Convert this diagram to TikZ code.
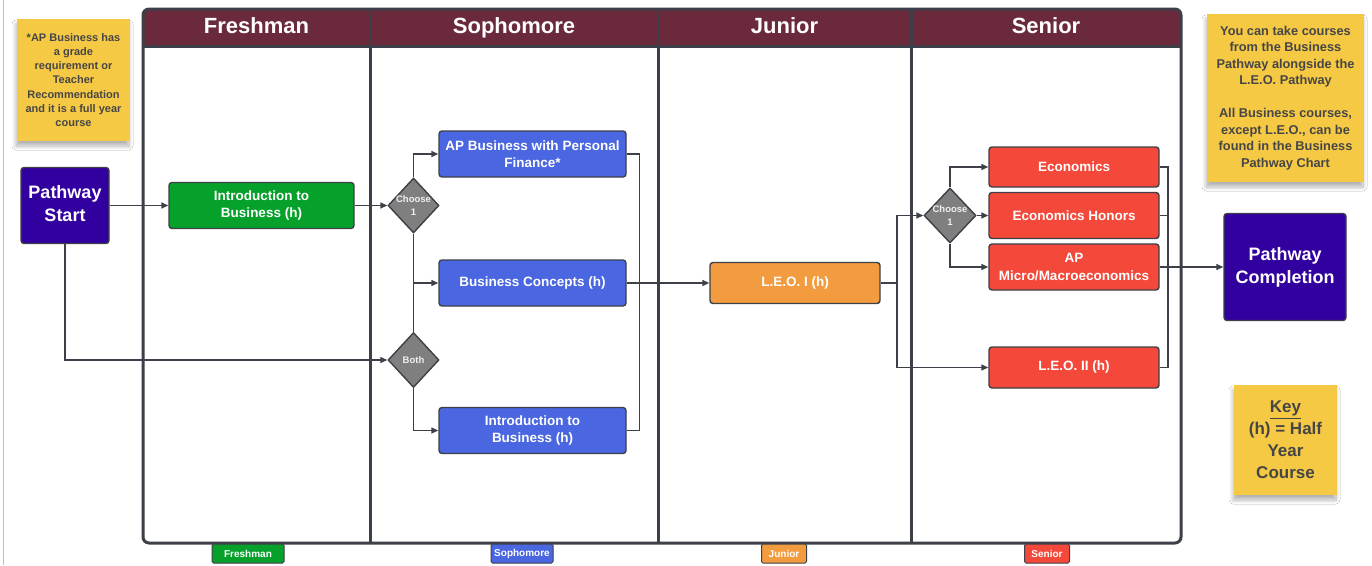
\documentclass[tikz,border=0pt]{standalone}
\usepackage{fontspec}
\setmainfont{Liberation Sans}
\usetikzlibrary{shapes.geometric,arrows.meta,shadows.blur}
\definecolor{edge}{HTML}{3D4048}
\definecolor{hdr}{HTML}{6B2A3B}
\definecolor{purp}{HTML}{3300A0}
\definecolor{grn}{HTML}{06A12B}
\definecolor{blu}{HTML}{4A66E0}
\definecolor{org}{HTML}{F39C3F}
\definecolor{redc}{HTML}{F4493A}
\definecolor{yel}{HTML}{F6C944}
\definecolor{dgray}{HTML}{7F7F7F}
\definecolor{notetext}{HTML}{464646}
\begin{document}
\begin{tikzpicture}[x=1pt,y=-1pt,
  box/.style={rectangle, rounded corners=3pt, draw=edge, line width=1.4pt, text=white, align=center, inner sep=0pt, font=\bfseries\fontsize{13.5}{17.5}\selectfont},
  bigbox/.style={box, fill=purp, font=\bfseries\fontsize{18}{23}\selectfont},
  dia/.style={diamond, draw=edge, fill=dgray, line width=1.4pt, minimum width=51pt, minimum height=55pt, inner sep=0pt},
  diatext/.style={text=white!88!gray, font=\bfseries\fontsize{9.5}{12.5}\selectfont, align=center, inner sep=0pt},
  conn/.style={draw=edge, line width=1.4pt},
  arr/.style={conn, -{Triangle[length=7pt,width=6pt]}},
  note/.style={rectangle, fill=yel, text=notetext, align=center, inner sep=0pt, blur shadow={shadow xshift=-1pt, shadow yshift=-5pt, shadow blur steps=8, shadow blur radius=4pt, shadow opacity=30}},
  lanehead/.style={text=white, font=\bfseries\fontsize{22}{26}\selectfont, inner sep=0pt, anchor=base},
  tag/.style={rectangle, rounded corners=1.5pt, draw=edge, line width=1pt, text=white, inner sep=0pt, minimum height=19pt, font=\bfseries\fontsize{10}{11}\selectfont},
  frameline/.style={draw=edge, line width=3pt}
]
\useasboundingbox (0,0) rectangle (1372,565);
\fill[white] (0,0) rectangle (1372,565);
\draw[gray!50, line width=1pt] (3,0) -- (3,565);

% swimlane frame
\fill[hdr] (143,46) {[rounded corners=6pt] -- (143,9) -- (1181,9)} -- (1181,46) -- cycle;
\draw[frameline, rounded corners=6pt] (143,9) rectangle (1181,543);
\draw[frameline] (143,46) -- (1181,46);
\draw[frameline] (370,9) -- (370,543);
\draw[frameline] (658,9) -- (658,543);
\draw[frameline] (911,9) -- (911,543);
\node[lanehead] (hF) at (256.5,33) {Freshman};
\node[lanehead] (hS) at (514,33) {Sophomore};
\node[lanehead] (hJ) at (784.5,33) {Junior};
\node[lanehead] (hN) at (1046,33) {Senior};

% bottom tags
\node[tag, fill=grn, minimum width=72pt] (tF) at (248,553.5) {Freshman};
\node[tag, fill=blu, minimum width=62pt] (tS) at (522,553.5) {Sophomore};
\node[tag, fill=org, minimum width=45pt] (tJ) at (784,553.5) {Junior};
\node[tag, fill=redc, minimum width=45pt] (tN) at (1047,553.5) {Senior};

% notes
\node[note, minimum width=113pt, minimum height=122pt, font=\bfseries\fontsize{11}{14.3}\selectfont] (n1) at (73.5,80)
  {*AP Business has\\a grade\\requirement or\\Teacher\\Recommendation\\and it is a full year\\course};
\node[note, minimum width=157pt, minimum height=168pt, font=\bfseries\fontsize{12.8}{16.5}\selectfont] (n2) at (1285.5,98)
  {You can take courses\\from the Business\\Pathway alongside the\\L.E.O. Pathway\\[16.5pt]All Business courses,\\except L.E.O., can be\\found in the Business\\Pathway Chart};
\node[note, minimum width=103pt, minimum height=110pt, font=\bfseries\fontsize{17}{22}\selectfont] (key) at (1285.5,440)
  {\underline{Key}\\(h) = Half\\Year\\Course};

% nodes
\node[bigbox, minimum width=88pt, minimum height=76pt] (start) at (65,205.5) {Pathway\\Start\vphantom{g}};
\node[box, fill=grn, minimum width=185pt, minimum height=46pt] (intro1) at (261.5,205.5) {Introduction to\\Business (h)};
\node[dia] (ch1) at (413.5,205.5) {};
\node[diatext] (ch1t) at (ch1) {Choose\\1};
\node[dia] (both) at (413.5,360) {};
\node[diatext] (botht) at (both) {Both};
\node[box, fill=blu, minimum width=187pt, minimum height=46pt] (ap) at (532.5,154) {AP Business with Personal\\Finance*};
\node[box, fill=blu, minimum width=187pt, minimum height=46pt] (bc) at (532.5,283) {Business Concepts (h)};
\node[box, fill=blu, minimum width=187pt, minimum height=46pt] (intro2) at (532.5,430.5) {Introduction to\\Business (h)};
\node[box, fill=org, minimum width=170pt, minimum height=41pt] (leo1) at (795,283) {L.E.O. I (h)};
\node[dia, minimum width=52pt] (ch2) at (950,215.5) {};
\node[diatext] (ch2t) at (ch2) {Choose\\1};
\node[box, fill=redc, minimum width=170pt, minimum height=40pt] (econ) at (1074,167) {Economics};
\node[box, fill=redc, minimum width=170pt, minimum height=46pt] (eh) at (1074,215.5) {Economics Honors};
\node[box, fill=redc, minimum width=170pt, minimum height=46pt] (apm) at (1074,267) {AP\\Micro/Macroeconomics};
\node[box, fill=redc, minimum width=170pt, minimum height=41pt] (leo2) at (1074,367.5) {L.E.O. II (h)};
\node[bigbox, minimum width=122pt, minimum height=107pt] (done) at (1285,267) {Pathway\\Completion};

% connectors
\draw[arr] (start.east) -- (start.east -| intro1.west);
\draw[arr] (start.south) |- (both.west);
\draw[arr] (intro1.east) -- (ch1.west);
\draw[arr] (ch1.north) |- (ap.west);
\draw[arr] (ch1.south) |- (bc.west);
\draw[conn] (both.north) -- (both.north |- bc.west);
\draw[arr] (both.south) |- (intro2.west);
\draw[conn] (ap.east) -- ([xshift=13pt]ap.east) |- (intro2.east);
\draw[arr] (bc.east) -- (leo1.west);
\coordinate (jn) at (897,283);
\draw[conn] (leo1.east) -- (jn);
\draw[arr] (jn) |- (ch2.west);
\draw[arr] (jn) |- (leo2.west);
\draw[arr] (ch2.north) |- (econ.west);
\draw[arr] (ch2.east) -- (eh.west);
\draw[arr] (ch2.south) |- (apm.west);
\coordinate (kn) at (1168,267);
\draw[conn] (econ.east) -- (econ.east -| kn) |- (leo2.east);
\draw[conn] (eh.east) -- (eh.east -| kn);
\draw[arr] (apm.east) -- (done.west);
\end{tikzpicture}
\end{document}
